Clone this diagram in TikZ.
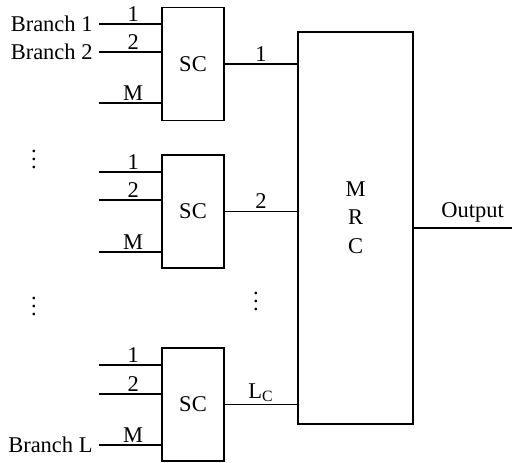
\documentclass[tikz,border=0pt]{standalone}
\usepackage{fontspec}
\setmainfont{Liberation Serif}
\usepackage{tikz}
\pgfdeclarelayer{edgelayer}
\pgfdeclarelayer{nodelayer}
\pgfsetlayers{edgelayer,nodelayer,main}
\tikzstyle{edge}=[draw=black, line width=0.75pt]
\tikzstyle{block}=[rectangle, draw=black, fill=white, line width=0.75pt, inner sep=0pt, minimum width=31pt, minimum height=56.5pt]
\tikzstyle{portlabel}=[inner sep=1pt]
\tikzstyle{branchlabel}=[inner sep=3pt, anchor=east]

\begin{document}
\begin{tikzpicture}[x=0.5pt, y=-0.5pt]
	\useasboundingbox (0,0) rectangle (512,462);
	\fontsize{11.25}{14.2}\selectfont
	\begin{pgfonlayer}{nodelayer}
		\node [style=block] (sc1) at (193, 64) {SC};
		\node [style=block] (sc2) at (193, 211.5) {SC};
		\node [style=block] (sc3) at (193, 404.5) {SC};
		\node [style=block, minimum width=57.5pt, minimum height=196pt] (mrc) at (355.5, 228) {};
		\node [align=center, inner sep=0pt] (mrctext) at (355.5, 217.5) {M\\R\\C};
		\coordinate (a1) at (99, 24);
		\coordinate (a2) at (99, 52);
		\coordinate (a3) at (99, 103);
		\coordinate (b1) at (99, 172);
		\coordinate (b2) at (99, 200);
		\coordinate (b3) at (99, 252);
		\coordinate (c1) at (99, 365);
		\coordinate (c2) at (99, 394);
		\coordinate (c3) at (99, 445);
		\coordinate (out) at (512, 228);
		\node [style=branchlabel] (br1) at (a1) {Branch 1};
		\node [style=branchlabel] (br2) at (a2) {Branch 2};
		\node [style=branchlabel] (brL) at (c3) {Branch L};
		\node [anchor=base, inner sep=0pt] (d1) at (34, 168) {$\vdots$};
		\node [anchor=base, inner sep=0pt] (d2) at (34, 315) {$\vdots$};
		\node [anchor=base, inner sep=0pt] (d3) at (256, 310) {$\vdots$};
	\end{pgfonlayer}
	\begin{pgfonlayer}{edgelayer}
		\draw [style=edge] (a1) to node [style=portlabel, above, pos=0.55] (t11) {1} (a1 -| sc1.west);
		\draw [style=edge] (a2) to node [style=portlabel, above, pos=0.55] (t12) {2} (a2 -| sc1.west);
		\draw [style=edge] (a3) to node [style=portlabel, above, pos=0.55] (t13) {M} (a3 -| sc1.west);
		\draw [style=edge] (b1) to node [style=portlabel, above, pos=0.55] (t21) {1} (b1 -| sc2.west);
		\draw [style=edge] (b2) to node [style=portlabel, above, pos=0.55] (t22) {2} (b2 -| sc2.west);
		\draw [style=edge] (b3) to node [style=portlabel, above, pos=0.55] (t23) {M} (b3 -| sc2.west);
		\draw [style=edge] (c1) to node [style=portlabel, above, pos=0.55] (t31) {1} (c1 -| sc3.west);
		\draw [style=edge] (c2) to node [style=portlabel, above, pos=0.55] (t32) {2} (c2 -| sc3.west);
		\draw [style=edge] (c3) to node [style=portlabel, above, pos=0.55] (t33) {M} (c3 -| sc3.west);
		\draw [style=edge] (sc1.east) to node [style=portlabel, above] (m1) {1} (sc1.east -| mrc.west);
		\draw [style=edge] (sc2.east) to node [style=portlabel, above] (m2) {2} (sc2.east -| mrc.west);
		\draw [style=edge] (sc3.east) to node [style=portlabel, above] (m3) {L\textsubscript{C}} (sc3.east -| mrc.west);
		\draw [style=edge] (mrc.east) to node [style=portlabel, above, pos=0.6, yshift=1.5pt] (o) {Output} (out);
	\end{pgfonlayer}
\end{tikzpicture}
\end{document}
